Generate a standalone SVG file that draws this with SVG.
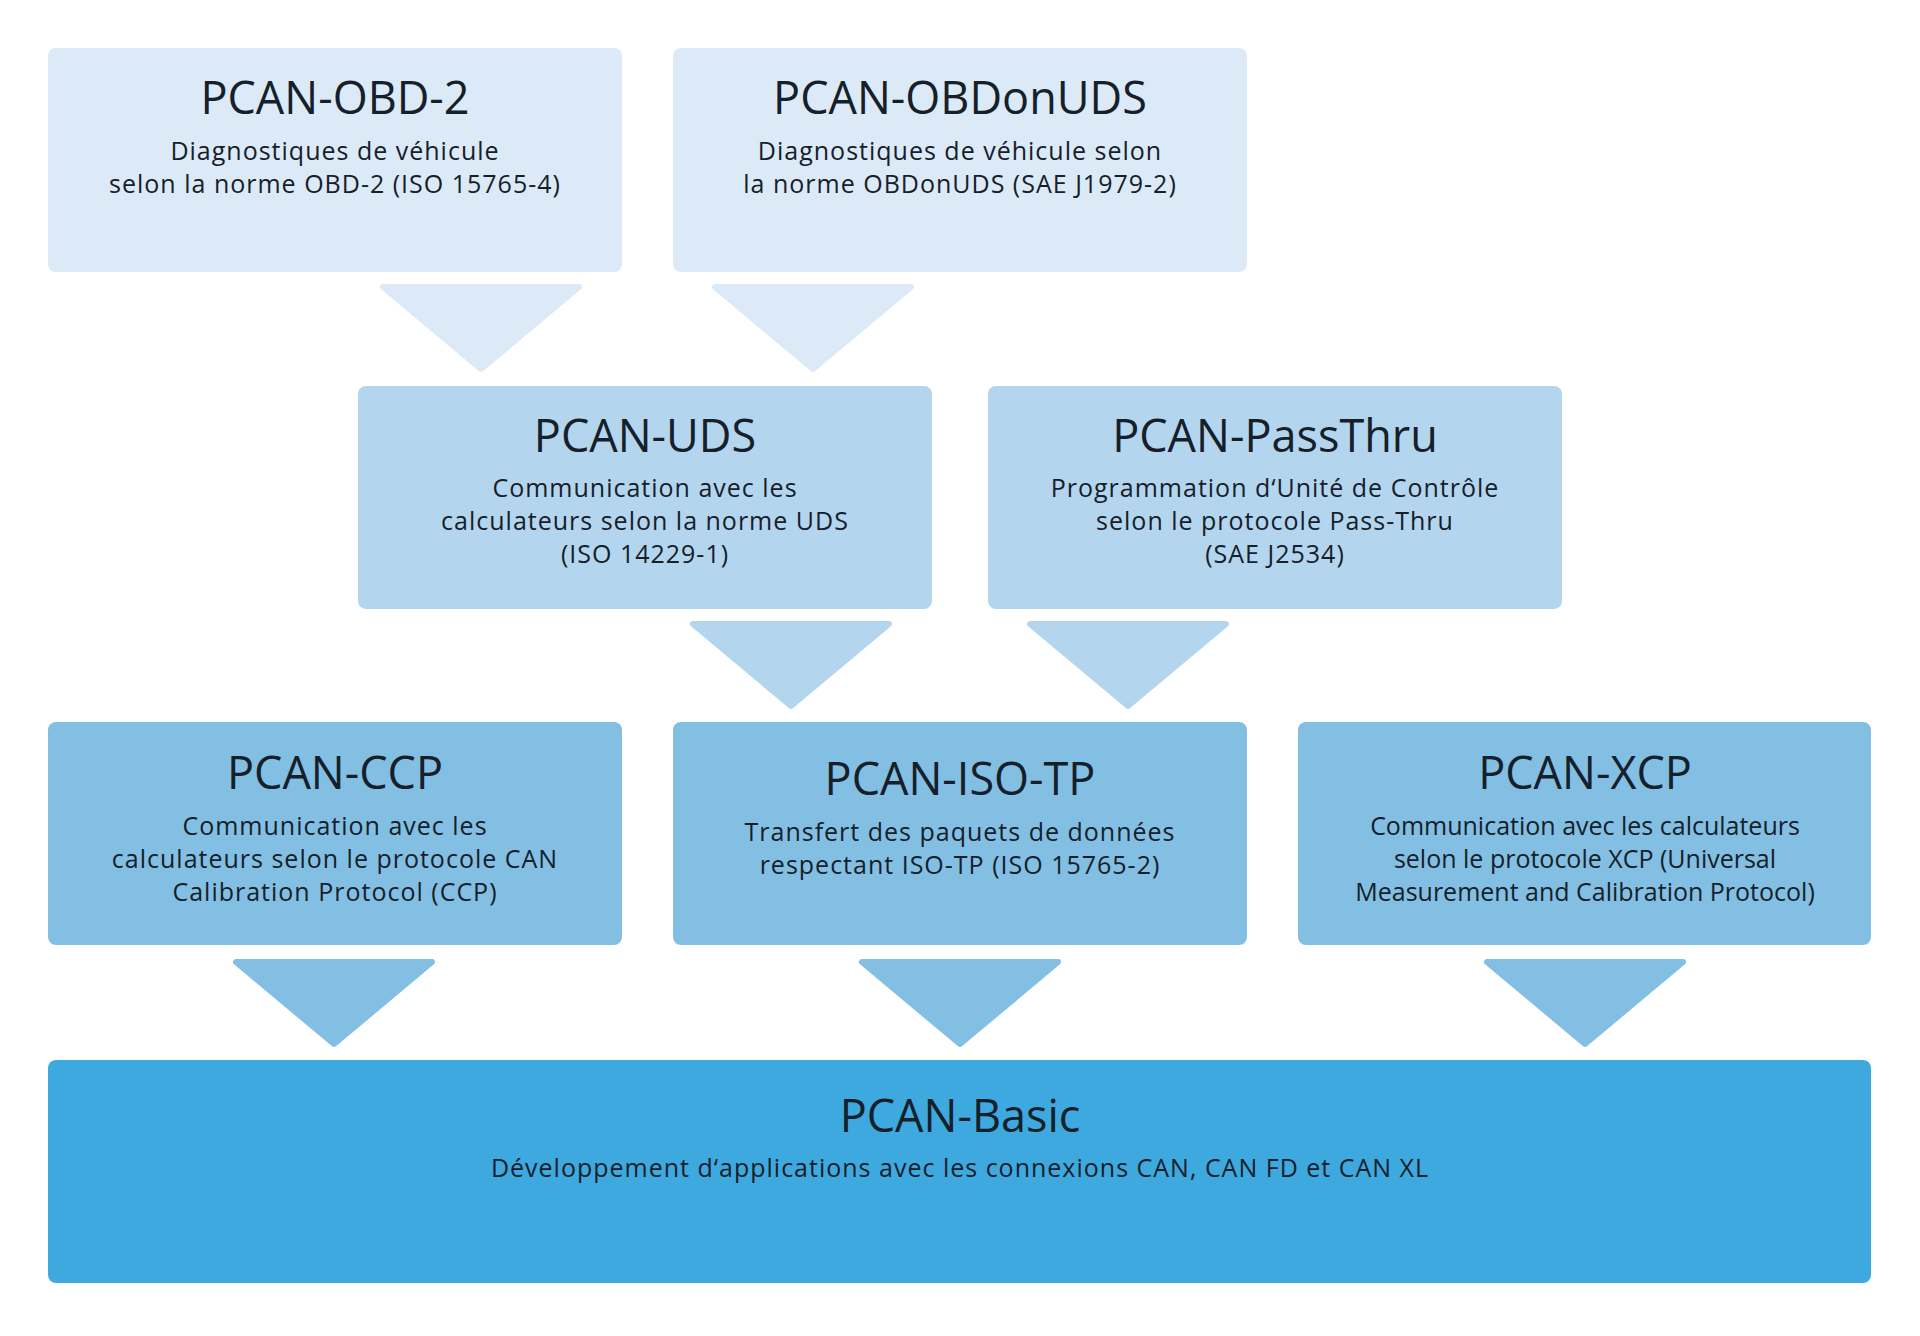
<svg xmlns="http://www.w3.org/2000/svg" width="1920" height="1336" viewBox="0 0 1920 1336">
<style>
.t{font-family:"Open Sans","Liberation Sans",sans-serif;font-size:45px;fill:#15202b;text-anchor:middle}
.b{font-family:"Open Sans","Liberation Sans",sans-serif;font-size:25px;fill:#15202b;text-anchor:middle;letter-spacing:1px}
.r1{fill:#dceaf7}.r2{fill:#b3d6ee}.r3{fill:#82bfe3}.r4{fill:#3ea9df}
.a{stroke-linejoin:round;stroke-width:6}
</style>
<rect width="1920" height="1336" fill="#fff"/>
<g id="connectors">
<path class="a r1" stroke="#dceaf7" d="M383,287 H579 L481,369 Z"/>
<path class="a r1" stroke="#dceaf7" d="M715,287 H911 L813,369 Z"/>
<path class="a r2" stroke="#b3d6ee" d="M693,624 H889 L791,706 Z"/>
<path class="a r2" stroke="#b3d6ee" d="M1030,624 H1226 L1128,706 Z"/>
<path class="a r3" stroke="#82bfe3" d="M236,962 H432 L334,1044 Z"/>
<path class="a r3" stroke="#82bfe3" d="M862,962 H1058 L960,1044 Z"/>
<path class="a r3" stroke="#82bfe3" d="M1487,962 H1683 L1585,1044 Z"/>
</g>
<g id="obd2"><rect class="r1" x="48" y="48" width="574" height="224" rx="8"/>
<text class="t" x="335" y="114">PCAN-OBD-2</text>
<text class="b" x="335" y="160">Diagnostiques de véhicule</text>
<text class="b" x="335" y="193">selon la norme OBD-2 (ISO 15765-4)</text></g>
<g id="obdonuds"><rect class="r1" x="673" y="48" width="574" height="224" rx="8"/>
<text class="t" x="960" y="114">PCAN-OBDonUDS</text>
<text class="b" x="960" y="160">Diagnostiques de véhicule selon</text>
<text class="b" x="960" y="193">la norme OBDonUDS (SAE J1979-2)</text></g>
<g id="uds"><rect class="r2" x="358" y="386" width="574" height="223" rx="8"/>
<text class="t" x="645" y="452">PCAN-UDS</text>
<text class="b" x="645" y="497">Communication avec les</text>
<text class="b" x="645" y="530">calculateurs selon la norme UDS</text>
<text class="b" x="645" y="563">(ISO 14229-1)</text></g>
<g id="passthru"><rect class="r2" x="988" y="386" width="574" height="223" rx="8"/>
<text class="t" x="1275" y="452">PCAN-PassThru</text>
<text class="b" x="1275" y="497">Programmation d‘Unité de Contrôle</text>
<text class="b" x="1275" y="530">selon le protocole Pass-Thru</text>
<text class="b" x="1275" y="563">(SAE J2534)</text></g>
<g id="ccp"><rect class="r3" x="48" y="722" width="574" height="223" rx="8"/>
<text class="t" x="335" y="789">PCAN-CCP</text>
<text class="b" x="335" y="835">Communication avec les</text>
<text class="b" x="335" y="868">calculateurs selon le protocole CAN</text>
<text class="b" x="335" y="901">Calibration Protocol (CCP)</text></g>
<g id="isotp"><rect class="r3" x="673" y="722" width="574" height="223" rx="8"/>
<text class="t" x="960" y="795">PCAN-ISO-TP</text>
<text class="b" x="960" y="841">Transfert des paquets de données</text>
<text class="b" x="960" y="874">respectant ISO-TP (ISO 15765-2)</text></g>
<g id="xcp"><rect class="r3" x="1298" y="722" width="573" height="223" rx="8"/>
<text class="t" x="1585" y="789">PCAN-XCP</text>
<text class="b" x="1585" y="835" style="letter-spacing:0">Communication avec les calculateurs</text>
<text class="b" x="1585" y="868" style="letter-spacing:0">selon le protocole XCP (Universal</text>
<text class="b" x="1585" y="901" style="letter-spacing:0">Measurement and Calibration Protocol)</text></g>
<g id="basic"><rect class="r4" x="48" y="1060" width="1823" height="223" rx="8"/>
<text class="t" x="960" y="1132">PCAN-Basic</text>
<text class="b" x="960" y="1177">Développement d‘applications avec les connexions CAN, CAN FD et CAN XL</text></g>
</svg>
